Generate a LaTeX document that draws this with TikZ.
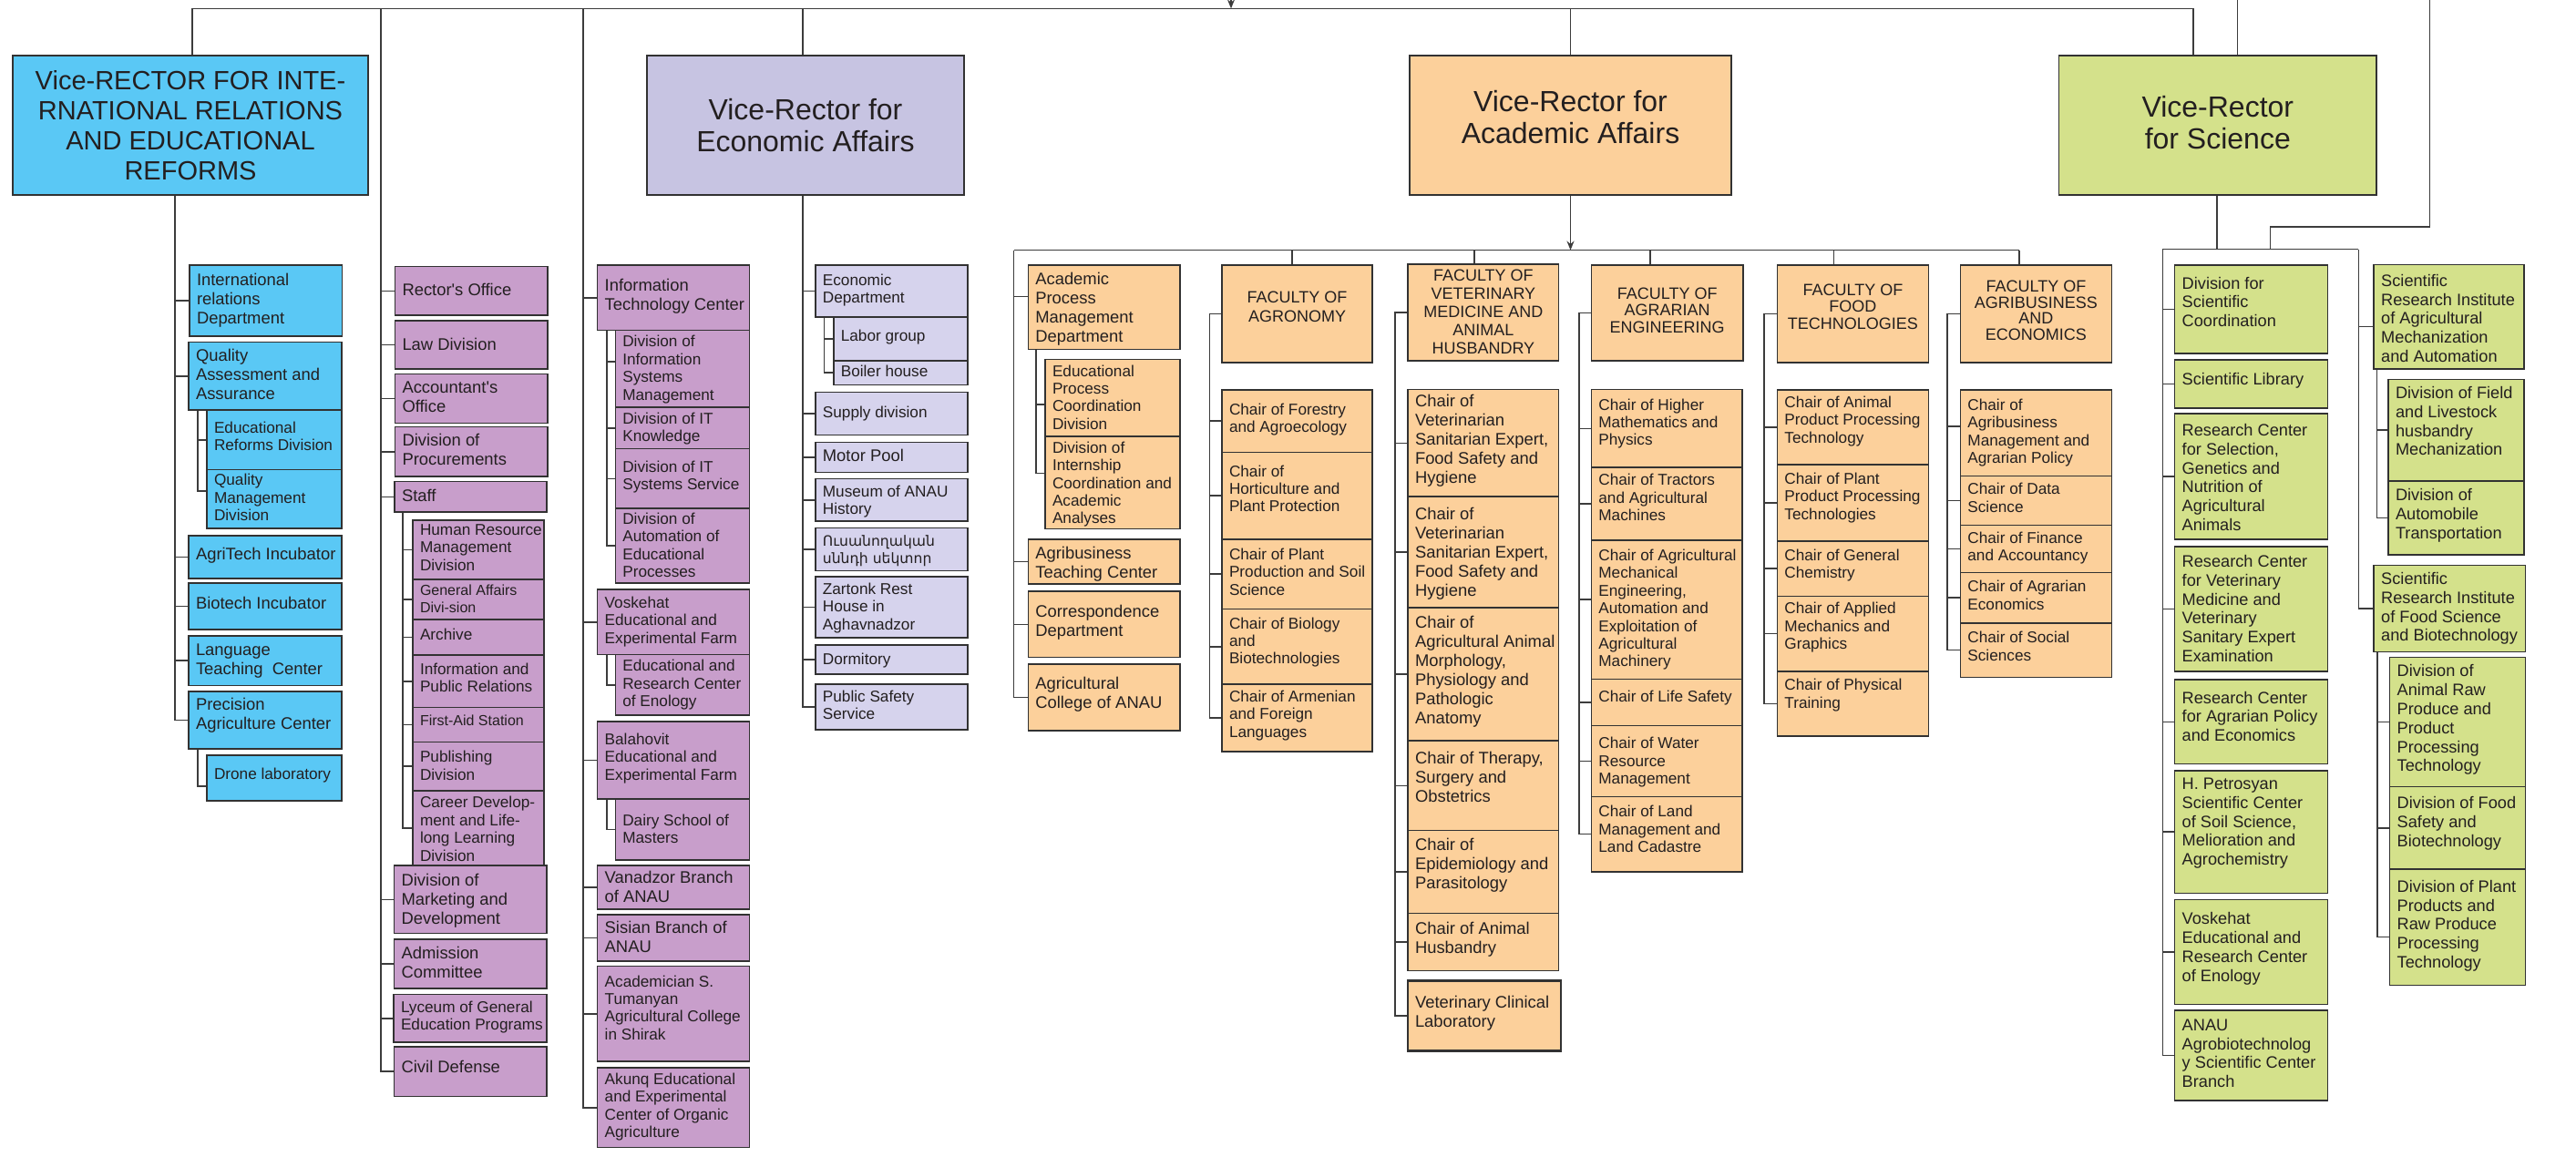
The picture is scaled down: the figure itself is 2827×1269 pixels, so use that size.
\documentclass[tikz,border=0pt]{standalone}
\usepackage{fontspec}
\setmainfont{Liberation Sans}
\newfontfamily\armfont{DejaVu Sans}
\usetikzlibrary{fit,backgrounds,arrows.meta}
\definecolor{blueF}{RGB}{90,200,245}
\definecolor{purpF}{RGB}{200,158,203}
\definecolor{lavVR}{RGB}{199,196,226}
\definecolor{lavF}{RGB}{214,211,237}
\definecolor{orF}{RGB}{252,208,155}
\definecolor{grF}{RGB}{212,225,139}
\definecolor{txtc}{RGB}{35,31,32}
\definecolor{boxline}{RGB}{50,50,50}
\definecolor{linec}{RGB}{60,60,60}
\tikzset{
 box/.style={draw=boxline, line width=0.75pt, inner sep=0pt, outer sep=0pt},
 bl/.style={fill=blueF}, pu/.style={fill=purpF}, lv/.style={fill=lavF},
 lvv/.style={fill=lavVR}, orr/.style={fill=orF}, gr/.style={fill=grF},
 txt/.style={inner sep=0pt, outer sep=0pt, align=left, text=txtc},
 big/.style={font=\fontsize{9.2}{10.5}\selectfont},
 sml/.style={font=\fontsize{8.6}{9.7}\selectfont},
 xs/.style={font=\fontsize{8}{9.2}\selectfont},
 sci/.style={font=\fontsize{9.1}{10.4}\selectfont},
 arm/.style={font=\armfont\fontsize{7.8}{9.6}\selectfont},
 fac/.style={font=\fontsize{9}{#1}\selectfont},
 vr/.style={font=\fontsize{16}{17.5}\selectfont},
 vrb/.style={font=\fontsize{14.5}{16.5}\selectfont},
 conn/.style={draw=linec, line width=0.8pt},
 tip/.style={-{Stealth[length=5pt,width=4pt]}},
}
\newcommand\mybx[9]{%
 \node[box,#2,fit={(#4,#5) (#6,#7)}] (#1) {};
 \node[txt,#3,anchor=north west] at ([xshift=4pt,yshift={-(#8)*0.5pt}]#1.north west) {#9};}
\newcommand\mycbx[9]{%
 \node[box,#2,fit={(#4,#5) (#6,#7)}] (#1) {};
 \node[txt,#3,align=center,anchor=north] at ([yshift={-(#8)*0.5pt}]#1.north) {#9};}
\begin{document}
\begin{tikzpicture}[x=0.5pt,y=-0.5pt]
\useasboundingbox (0,0) rectangle (2827,1269);
% ---------- Blue column
\mycbx{B0}{bl}{vrb}{14}{61}{404}{214}{16}{Vice-RECTOR FOR INTE-\\RNATIONAL RELATIONS\\AND EDUCATIONAL\\REFORMS}
\mybx{B1}{bl}{big}{208}{291}{375.5}{369}{9}{International\\relations\\Department}
\mybx{B2}{bl}{big}{207}{375.5}{375}{450}{8}{Quality\\Assessment and\\Assurance}
\mybx{B2a}{bl}{sml}{227}{450}{375}{515.5}{13}{Educational\\Reforms Division}
\mybx{B2b}{bl}{sml}{227}{515.5}{375}{580}{5}{Quality\\Management\\Division}
\mybx{B3}{bl}{big}{207}{588}{375}{635}{13}{AgriTech Incubator}
\mybx{B4}{bl}{big}{207}{640}{375}{691}{15}{Biotech Incubator}
\mybx{B5}{bl}{big}{207}{698}{375}{752.5}{9}{Language\\Teaching~~Center}
\mybx{B6}{bl}{big}{207}{759}{375}{822}{7.5}{Precision\\Agriculture Center}
\mybx{B6a}{bl}{sml}{227}{829}{375}{879}{14}{Drone laboratory}
% ---------- Purple (Rector) column
\mybx{P1}{pu}{big}{433.5}{292.7}{601}{346}{18}{Rector\textquotesingle s Office}
\mybx{P2}{pu}{big}{433.5}{352}{601}{405}{19}{Law Division}
\mybx{P3}{pu}{big}{433.5}{410.6}{601}{464.5}{8}{Accountant\textquotesingle s\\Office}
\mybx{P4}{pu}{big}{433.5}{468.6}{601}{523}{8}{Division of\\Procurements}
\mybx{P5}{pu}{big}{433}{528.6}{600}{562}{9}{Staff}
\mybx{P5a}{pu}{sml}{453}{571}{597}{636}{4.5}{Human Resource\\Management\\Division}
\mybx{P5b}{pu}{xs}{453}{636}{597}{680}{6}{General Affairs\\Divi-sion}
\mybx{P5c}{pu}{sml}{453}{680}{597}{719}{10}{Archive}
\mybx{P5d}{pu}{sml}{453}{719}{597}{776.5}{9}{Information and\\Public Relations}
\mybx{P5e}{pu}{xs}{453}{776.5}{597}{814.5}{8}{First-Aid Station}
\mybx{P5f}{pu}{sml}{453}{814.5}{597}{868}{10}{Publishing\\Division}
\mybx{P5g}{pu}{sml}{453}{868}{597}{950}{6.5}{Career Develop-\\ment and Life-\\long Learning\\Division}
\mybx{P6}{pu}{big}{432.6}{950}{600}{1024.7}{9}{Division of\\Marketing and\\Development}
\mybx{P7}{pu}{big}{432.6}{1031}{600}{1085}{8.5}{Admission\\Committee}
\mybx{P8}{pu}{sml}{432}{1091.6}{600}{1144}{7}{Lyceum of General\\Education Programs}
\mybx{P9}{pu}{big}{432.6}{1149}{600}{1203.5}{15}{Civil Defense}
% ---------- ITC column
\mybx{I1}{pu}{big}{655.7}{291}{822.7}{362.4}{15}{Information\\Technology Center}
\mybx{I1a}{pu}{sml}{675.3}{362.4}{822.7}{447}{6}{Division of\\Information\\Systems\\Management}
\mybx{I1b}{pu}{sml}{675.3}{447}{822.7}{492.6}{6}{Division of IT\\Knowledge}
\mybx{I1c}{pu}{sml}{675.3}{492.6}{822.7}{558}{13}{Division of IT\\Systems Service}
\mybx{I1d}{pu}{sml}{675.3}{558}{822.7}{640}{5}{Division of\\Automation of\\Educational\\Processes}
\mybx{I2}{pu}{sml}{655.7}{647}{822.7}{718.4}{8}{Voskehat\\Educational and\\Experimental Farm}
\mybx{I2a}{pu}{sml}{675.3}{718.4}{822.7}{785}{6}{Educational and\\Research Center\\of Enology}
\mybx{I3}{pu}{sml}{655.7}{792}{822.7}{877}{13}{Balahovit\\Educational and\\Experimental Farm}
\mybx{I3a}{pu}{sml}{675.3}{877}{822.7}{943.8}{17}{Dairy School of\\Masters}
\mybx{I4}{pu}{big}{655.7}{950}{822.7}{998}{6}{Vanadzor Branch\\of ANAU}
\mybx{I5}{pu}{big}{655.7}{1004}{822.7}{1055}{7}{Sisian Branch of\\ANAU}
\mybx{I6}{pu}{sml}{655.7}{1060.7}{822.7}{1165}{10}{Academician S.\\Tumanyan\\Agricultural College\\in Shirak}
\mybx{I7}{pu}{sml}{655.7}{1172}{822.7}{1259.6}{6}{Akunq Educational\\and Experimental\\Center of Organic\\Agriculture}
% ---------- Economic column
\mycbx{E0}{lvv}{vr}{710}{61}{1058}{214}{47}{Vice-Rector for\\Economic Affairs}
\mybx{E1}{lv}{sml}{894.9}{291}{1062}{347.8}{10}{Economic\\Department}
\mybx{E1a}{lv}{sml}{914.8}{347.8}{1062}{396}{14.6}{Labor group}
\mybx{E1b}{lv}{sml}{914.8}{396}{1062}{422.4}{5}{Boiler house}
\mybx{E2}{lv}{sml}{894.9}{430.6}{1062}{477.6}{15}{Supply division}
\mybx{E3}{lv}{big}{894.9}{485.7}{1062}{518.4}{7}{Motor Pool}
\mybx{E4}{lv}{sml}{894.9}{525.7}{1062}{572}{7}{Museum of ANAU\\History}
\mybx{E5}{lv}{arm}{894.9}{579.6}{1062}{626.5}{8}{Ուսանողական\\սննդի սեկտոր}
\mybx{E6}{lv}{sml}{894.9}{633}{1062}{700}{7}{Zartonk Rest\\House in\\Aghavnadzor}
\mybx{E7}{lv}{sml}{894.9}{708}{1062}{740}{9}{Dormitory}
\mybx{E8}{lv}{sml}{894.9}{751}{1062}{801}{7}{Public Safety\\Service}
% ---------- Academic column
\mycbx{A0}{orr}{vr}{1547}{61}{1900}{214}{38}{Vice-Rector for\\Academic Affairs}
\mybx{A1}{orr}{big}{1128.3}{291}{1294.8}{383.7}{8}{Academic\\Process\\Management\\Department}
\mybx{A1a}{orr}{sml}{1147}{394.7}{1294.8}{478.8}{6}{Educational\\Process\\Coordination\\Division}
\mybx{A1b}{orr}{sml}{1147}{478.8}{1294.8}{580.4}{6}{Division of\\Internship\\Coordination and\\Academic\\Analyses}
\mybx{A2}{orr}{big}{1128.3}{591.8}{1294.8}{641}{8}{Agribusiness\\Teaching Center}
\mybx{A3}{orr}{big}{1128.3}{649}{1294.8}{721.7}{15.5}{Correspondence\\Department}
\mybx{A4}{orr}{big}{1128.3}{729}{1294.8}{802}{14}{Agricultural\\College of ANAU}
% faculties
\mycbx{F1}{orr}{fac=10.6}{1341}{291}{1506}{398}{29}{FACULTY OF\\AGRONOMY}
\mycbx{F2}{orr}{fac=10}{1545}{290}{1710.7}{396}{6}{FACULTY OF\\VETERINARY\\MEDICINE AND\\ANIMAL\\HUSBANDRY}
\mycbx{F3}{orr}{fac=9.2}{1746.4}{291}{1912.9}{396}{25}{FACULTY OF\\AGRARIAN\\ENGINEERING}
\mycbx{F4}{orr}{fac=9.2}{1950.4}{291}{2116.4}{398}{21}{FACULTY OF\\FOOD\\TECHNOLOGIES}
\mycbx{F5}{orr}{fac=8.8}{2151.4}{291}{2317.5}{398}{17}{FACULTY OF\\AGRIBUSINESS\\AND\\ECONOMICS}
% agronomy chairs
\mybx{c1}{orr}{sml}{1341}{427.8}{1506}{496.7}{15}{Chair of Forestry\\and Agroecology}
\mybx{c2}{orr}{sml}{1341}{496.7}{1506}{591.8}{14}{Chair of\\Horticulture and\\Plant Protection}
\mybx{c3}{orr}{sml}{1341}{591.8}{1506}{668.7}{10}{Chair of Plant\\Production and Soil\\Science}
\mybx{c4}{orr}{sml}{1341}{668.7}{1506}{751}{9}{Chair of Biology\\and\\Biotechnologies}
\mybx{c5}{orr}{sml}{1341}{751}{1506}{824.8}{7}{Chair of Armenian\\and Foreign\\Languages}
% vet chairs
\mybx{v1}{orr}{big}{1545}{427.6}{1710.7}{545}{6}{Chair of\\Veterinarian\\Sanitarian Expert,\\Food Safety and\\Hygiene}
\mybx{v2}{orr}{big}{1545}{545}{1710.7}{667}{12}{Chair of\\Veterinarian\\Sanitarian Expert,\\Food Safety and\\Hygiene}
\mybx{v3}{orr}{big}{1545}{667}{1710.7}{813}{9}{Chair of\\Agricultural Animal\\Morphology,\\Physiology and\\Pathologic\\Anatomy}
\mybx{v4}{orr}{big}{1545}{813}{1710.7}{911.7}{12.5}{Chair of Therapy,\\Surgery and\\Obstetrics}
\mybx{v5}{orr}{big}{1545}{911.7}{1710.7}{1002.3}{8}{Chair of\\Epidemiology and\\Parasitology}
\mybx{v6}{orr}{big}{1545}{1002.3}{1710.7}{1065.7}{9.4}{Chair of Animal\\Husbandry}
\mybx{v7}{orr,line width=1.3pt}{big}{1545}{1076.7}{1713}{1153.3}{16.6}{Veterinary Clinical\\Laboratory}
% agrarian engineering chairs
\mybx{e1}{orr}{sml}{1746.4}{427.6}{1912}{513}{10}{Chair of Higher\\Mathematics and\\Physics}
\mybx{e2}{orr}{sml}{1746.4}{513}{1912}{593}{7.4}{Chair of Tractors\\and Agricultural\\Machines}
\mybx{e3}{orr}{sml}{1746.4}{593}{1912}{745.3}{10}{Chair of Agricultural\\Mechanical\\Engineering,\\Automation and\\Exploitation of\\Agricultural\\Machinery}
\mybx{e4}{orr}{sml}{1746.4}{745.3}{1912}{796.3}{13}{Chair of Life Safety}
\mybx{e5}{orr}{sml}{1746.4}{796.3}{1912}{874.5}{13}{Chair of Water\\Resource\\Management}
\mybx{e6}{orr}{sml}{1746.4}{874.5}{1912}{956.8}{10}{Chair of Land\\Management and\\Land Cadastre}
% food chairs
\mybx{f1}{orr}{sml}{1950.4}{427.8}{2116.4}{510}{7}{Chair of Animal\\Product Processing\\Technology}
\mybx{f2}{orr}{sml}{1950.4}{510}{2116.4}{593.9}{9}{Chair of Plant\\Product Processing\\Technologies}
\mybx{f3}{orr}{sml}{1950.4}{593.9}{2116.4}{654.5}{9}{Chair of General\\Chemistry}
\mybx{f4}{orr}{sml}{1950.4}{654.5}{2116.4}{736.8}{7}{Chair of Applied\\Mechanics and\\Graphics}
\mybx{f5}{orr}{sml}{1950.4}{736.8}{2116.4}{808}{8.5}{Chair of Physical\\Training}
% agribusiness chairs
\mybx{g1}{orr}{sml}{2151.4}{427.8}{2317.5}{522.4}{10}{Chair of\\Agribusiness\\Management and\\Agrarian Policy}
\mybx{g2}{orr}{sml}{2151.4}{522.4}{2317.5}{576.3}{8}{Chair of Data\\Science}
\mybx{g3}{orr}{sml}{2151.4}{576.3}{2317.5}{628.6}{7.4}{Chair of Finance\\and Accountancy}
\mybx{g4}{orr}{sml}{2151.4}{628.6}{2317.5}{683.8}{8.7}{Chair of Agrarian\\Economics}
\mybx{g5}{orr}{sml}{2151.4}{683.8}{2317.5}{743.3}{9.4}{Chair of Social\\Sciences}
% ---------- Science column
\mycbx{S0}{gr}{vr}{2259.6}{61}{2608}{214}{44}{Vice-Rector\\for Science}
\mybx{s1}{gr}{sci}{2386.7}{291}{2554.5}{387.8}{13}{Division for\\Scientific\\Coordination}
\mybx{s2}{gr}{sci}{2386.7}{395}{2554.5}{447.8}{14.4}{Scientific Library}
\mybx{s3}{gr}{sci}{2386.7}{453.9}{2554.5}{591.8}{11.4}{Research Center\\for Selection,\\Genetics and\\Nutrition of\\Agricultural\\Animals}
\mybx{s4}{gr}{sci}{2386.7}{600}{2554.5}{737.2}{9.4}{Research Center\\for Veterinary\\Medicine and\\Veterinary\\Sanitary Expert\\Examination}
\mybx{s5}{gr}{sci}{2386.7}{746}{2554.5}{838.6}{13}{Research Center\\for Agrarian Policy\\and Economics}
\mybx{s6}{gr}{sci}{2386.7}{846}{2554.5}{980.4}{8}{H. Petrosyan\\Scientific Center\\of Soil Science,\\Melioration and\\Agrochemistry}
\mybx{s7}{gr}{sci}{2386.7}{987.4}{2554.5}{1102.7}{14}{Voskehat\\Educational and\\Research Center\\of Enology}
\mybx{s8}{gr}{sci}{2386.7}{1108.8}{2554.5}{1207.8}{10}{ANAU\\Agrobiotechnolog\\y Scientific Center\\Branch}
\mybx{r1}{gr}{sci}{2605.2}{290.6}{2770}{404.9}{10.6}{Scientific\\Research Institute\\of Agricultural\\Mechanization\\and Automation}
\mybx{r1a}{gr}{sci}{2621}{416.3}{2770}{527.8}{8}{Division of Field\\and Livestock\\husbandry\\Mechanization}
\mybx{r1b}{gr}{sci}{2621}{527.8}{2770}{609}{9}{Division of\\Automobile\\Transportation}
\mybx{r2}{gr}{sci}{2605.2}{620.4}{2771.6}{715.6}{8}{Scientific\\Research Institute\\of Food Science\\and Biotechnology}
\mybx{r2a}{gr}{sci}{2622.7}{721.7}{2771.3}{863.5}{8}{Division of\\Animal Raw\\Produce and\\Product\\Processing\\Technology}
\mybx{r2b}{gr}{sci}{2622.7}{863.5}{2771.3}{954}{11}{Division of Food\\Safety and\\Biotechnology}
\mybx{r2c}{gr}{sci}{2622.7}{954}{2771.3}{1081.5}{12}{Division of Plant\\Products and\\Raw Produce\\Processing\\Technology}
% ---------- coordinates
\coordinate (tlL) at (211,9.4);
\coordinate (tlR) at (2407,9.4);
\coordinate (topIn) at (1351,0);
\coordinate (topS1) at (2455.3,0);
\coordinate (topS2) at (2666.4,0);
\coordinate (bendS) at (2491.6,249);
\coordinate (xB) at (192,0);
\coordinate (xB2) at (217,0);
\coordinate (xP) at (418,0);
\coordinate (xP5) at (442,0);
\coordinate (xI) at (640,0);
\coordinate (xI1) at (665.7,0);
\coordinate (xE) at (880.7,0);
\coordinate (xE1) at (904.4,0);
\coordinate (hA) at (0,274.6);
\coordinate (xA) at (1112.6,0);
\coordinate (xA1) at (1137,0);
\coordinate (xAR) at (2215.7,0);
\coordinate (dF1) at (1418,0);
\coordinate (dF2) at (1617.9,0);
\coordinate (dF3) at (1811,0);
\coordinate (dF4) at (2012.5,0);
\coordinate (xF1) at (1327.3,0);
\coordinate (xF2) at (1530.8,0);
\coordinate (xF3) at (1733,0);
\coordinate (xF4) at (1936,0);
\coordinate (xF5) at (2137,0);
\coordinate (hS) at (0,273.5);
\coordinate (xS) at (2432.8,0);
\coordinate (xSL) at (2373.3,0);
\coordinate (xSR) at (2588.4,0);
\coordinate (xR1) at (2608.6,0);
\coordinate (xR2) at (2609.2,0);
% ---------- connectors
\begin{scope}[on background layer]
\fill[white] (0,0) rectangle (2827,1269);
\draw[conn] (tlL |- B0.north) -- (tlL) -- (tlR) -- (tlR |- S0.north);
\draw[conn] (xE |- tlL) -- (xE |- E0.north);
\draw[conn] (A0.north |- tlL) -- (A0.north);
\draw[conn,tip] (topIn) -- (topIn |- tlL);
\draw[conn] (topS1) -- (topS1 |- S0.north);
\draw[conn] (topS2) |- (bendS) -- (bendS |- hS);
% blue
\draw[conn] (B0.south -| xB) |- (B6.west);
\foreach \n in {B1,B2,B3,B4,B5} \draw[conn] (xB |- \n.west) -- (\n.west);
\draw[conn] (B2.south -| xB2) |- ([yshift=4.4pt]B2b.west);
\draw[conn] (xB2 |- B2a.west) -- (B2a.west);
\draw[conn] (B6.south -| xB2) |- ([yshift=-4.5pt]B6a.west);
% purple
\draw[conn] (xP |- tlL) |- (P9.west);
\foreach \n in {P1,P2,P3,P4,P5,P6,P7,P8} \draw[conn] (xP |- \n.west) -- (\n.west);
\draw[conn] (P5.south -| xP5) |- (P5g.west);
\foreach \n in {P5a,P5b,P5c,P5d,P5e,P5f} \draw[conn] (xP5 |- \n.west) -- (\n.west);
% ITC
\draw[conn] (xI |- tlL) |- (I7.west);
\foreach \n in {I1,I2,I3,I4,I5,I6} \draw[conn] (xI |- \n.west) -- (\n.west);
\draw[conn] (I1.south -| xI1) |- (I1d.west);
\draw[conn] (xI1 |- I1a.west) ++(0,-7.7) -- ([yshift=3.85pt]I1a.west);
\foreach \n in {I1b,I1c} \draw[conn] (xI1 |- \n.west) -- (\n.west);
\draw[conn] (I2.south -| xI1) |- (I2a.west);
\draw[conn] (I3.south -| xI1) |- (I3a.west);
% economic
\draw[conn] (E0.south -| xE) |- (E8.west);
\foreach \n in {E1,E2,E3,E4,E5,E6,E7} \draw[conn] (xE |- \n.west) -- (\n.west);
\draw[conn] (E1.south -| xE1) |- (E1b.west);
\draw[conn] (xE1 |- E1a.west) -- (E1a.west);
% academic
\draw[conn,tip] (A0.south) -- (A0.south |- hA);
\draw[conn] (xA |- hA) -- (xAR |- hA);
\draw[conn] (xA |- hA) |- (A4.west);
\draw[conn] (xA |- A1.west) ++(0,-12) -- ([yshift=6pt]A1.west);
\foreach \n in {A2,A3} \draw[conn] (xA |- \n.west) -- (\n.west);
\draw[conn] (A1.south -| xA1) |- ([yshift=5pt]A1b.west);
\draw[conn] (xA1 |- A1a.west) ++(0,7.2) -- ([yshift=-3.6pt]A1a.west);
\foreach \d/\f in {dF1/F1,dF2/F2,dF3/F3,dF4/F4,xAR/F5} \draw[conn] (\d |- hA) -- (\d |- \f.north);
\draw[conn] (F1.west) -| (xF1 |- c5.west) -- (c5.west);
\foreach \n in {c1,c2,c3,c4} \draw[conn] (xF1 |- \n.west) -- (\n.west);
\draw[conn] (F2.west) -| (xF2 |- v7.west) -- (v7.west);
\foreach \n in {v1,v2,v3,v4,v5,v6} \draw[conn] (xF2 |- \n.west) -- (\n.west);
\draw[conn] (F3.west) -| (xF3 |- e6.west) -- (e6.west);
\foreach \n in {e1,e2,e4,e5} \draw[conn] (xF3 |- \n.west) -- (\n.west);
\draw[conn] (xF3 |- e3.west) ++(0,-11) -- ([yshift=5.5pt]e3.west);
\draw[conn] (F4.west) -| (xF4 |- f5.west) -- (f5.west);
\foreach \n in {f1,f2,f3,f4} \draw[conn] (xF4 |- \n.west) -- (\n.west);
\draw[conn] (F5.west) -| (xF5 |- g5.west) -- (g5.west);
\foreach \n in {g2,g3,g4} \draw[conn] (xF5 |- \n.west) -- (\n.west);
\draw[conn] (xF5 |- g1.west) ++(0,-7) -- ([yshift=3.5pt]g1.west);
% science
\draw[conn] (S0.south -| xS) -- (xS |- hS);
\draw[conn] (xSL |- hS) -- (xSR |- hS);
\draw[conn] (xSL |- hS) |- (s8.west);
\foreach \n in {s1,s2,s3,s4,s5,s6,s7} \draw[conn] (xSL |- \n.west) -- (\n.west);
\draw[conn] (xSR |- hS) |- (r2.west);
\draw[conn] (xSR |- r1.west) ++(0,10.6) -- ([yshift=-5.3pt]r1.west);
\draw[conn] (r1.south -| xR1) |- (r1b.west);
\draw[conn] (xR1 |- r1a.west) -- (r1a.west);
\draw[conn] (r2.south -| xR2) |- ([yshift=-5.4pt]r2c.west);
\foreach \n in {r2a,r2b} \draw[conn] (xR2 |- \n.west) -- (\n.west);
\end{scope}
\end{tikzpicture}
\end{document}
